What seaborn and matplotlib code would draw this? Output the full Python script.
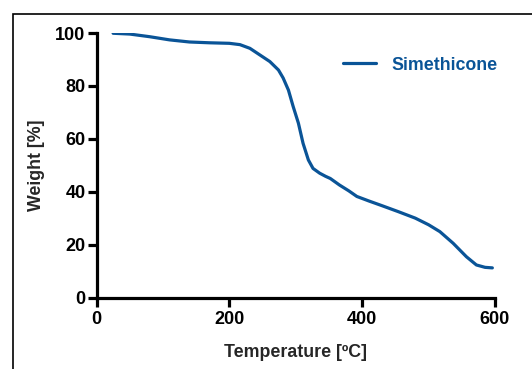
import matplotlib
matplotlib.use("Agg")
import matplotlib.pyplot as plt
from matplotlib.patches import Rectangle
import pandas as pd
import seaborn as sns

# Thermogravimetric curve of simethicone
temperature = [25, 50, 80, 110, 140, 170, 200, 216, 231, 246, 261, 274, 281,
               289, 296, 304, 311, 319, 326, 336, 345, 352, 366, 380, 392,
               410, 430, 455, 480, 500, 517, 537, 557, 572, 585, 596]
weight = [99.9, 99.6, 98.6, 97.4, 96.6, 96.3, 96.1, 95.6, 94.2, 91.7, 89.2,
          86.0, 83.0, 78.4, 72.3, 65.9, 58.3, 52.0, 48.8, 47.0, 45.8, 45.0,
          42.5, 40.3, 38.2, 36.5, 34.7, 32.4, 30.0, 27.5, 24.9, 20.5, 15.4,
          12.3, 11.4, 11.2]
series_name = "Simethicone"
x_ticks = [0, 200, 400, 600]
y_ticks = [0, 20, 40, 60, 80, 100]

df = pd.DataFrame({"Temperature": temperature, "Weight": weight,
                   "Sample": series_name})

sns.set_style("ticks")
plt.rcParams["font.family"] = ["Liberation Sans", "DejaVu Sans"]
plt.rcParams["font.weight"] = "bold"

blue = "#0a5497"
W, H = 532, 369
fig = plt.figure(figsize=(W / 100, H / 100), dpi=100)
ax = fig.add_axes([96.5 / W, 1 - 297.5 / H, (495 - 96.5) / W, (297.5 - 33) / H])

sns.lineplot(data=df, x="Temperature", y="Weight", hue="Sample",
             palette=[blue], linewidth=2.3, ax=ax, sort=False)
ax.lines[0].set_solid_joinstyle("round")

ax.set_xlim(0, 600)
ax.set_ylim(0, 100)
ax.set_xticks(x_ticks)
ax.set_yticks(y_ticks)
ax.set_xlabel("Temperature [ºC]", fontsize=12.8, fontweight="bold", labelpad=11)
ax.set_ylabel("Weight [%]", fontsize=12.8, fontweight="bold", labelpad=7)

for side in ("top", "right"):
    ax.spines[side].set_visible(False)
for side in ("left", "bottom"):
    ax.spines[side].set_linewidth(2.3)
    ax.spines[side].set_color("black")
ax.tick_params(axis="both", direction="out", length=6.5, width=2.3,
               labelsize=13, colors="black")
ax.tick_params(axis="y", pad=1.5)
ax.tick_params(axis="x", pad=3.5)
for lab in ax.get_xticklabels() + ax.get_yticklabels():
    lab.set_fontweight("bold")

leg = ax.legend(loc="center left", bbox_to_anchor=(0.6186, 0.879),
                bbox_transform=ax.transAxes, frameon=False, borderpad=0,
                borderaxespad=0, handlelength=1.85, handletextpad=0.85,
                labelcolor=blue, prop={"weight": "bold", "size": 12.8})

# Outer frame around the figure
fig.add_artist(Rectangle((12.5 / W, -0.2), 1.2, 1 - 13.5 / H + 0.2,
                         transform=fig.transFigure, fill=False,
                         edgecolor="black", linewidth=1.2))

fig.savefig("out.png", dpi=100)
